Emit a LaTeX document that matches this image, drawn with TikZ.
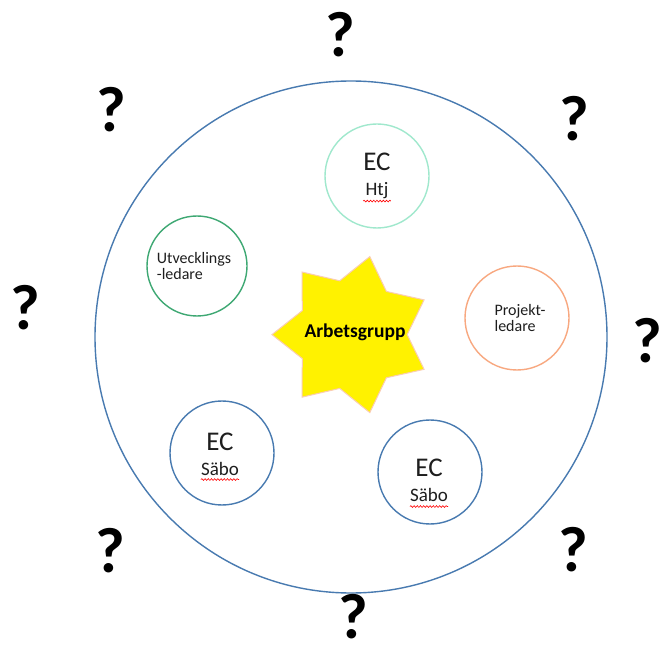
\documentclass[tikz,border=0pt]{standalone}
\usepackage{fontspec}
\setmainfont{Carlito}
\usepackage{xcolor}
\usetikzlibrary{shapes.geometric,decorations.pathmorphing}

\definecolor{ringblue}{RGB}{72,122,176}
\definecolor{ringmint}{RGB}{160,232,205}
\definecolor{ringgreen}{RGB}{62,168,115}
\definecolor{ringorange}{RGB}{248,168,128}
\definecolor{starline}{RGB}{250,205,178}
\definecolor{txtgray}{RGB}{30,30,30}

\begin{document}
\begin{tikzpicture}[
  x=1pt, y=-1pt,
  ring/.style={draw, circle, line width=1.4pt, minimum size=#1, inner sep=0pt},
  ring/.default=104pt,
  ectext/.style={align=center, inner sep=0pt, text=txtgray, font=\fontsize{27}{25}\selectfont},
  roletext/.style={align=left, inner sep=0pt, text=txtgray, font=\fontsize{16}{16.5}\selectfont},
  burst/.style={star, star points=7, star point ratio=1.45, minimum size=160pt, shape border rotate=-12.86,
    fill=yellow, draw=starline, line width=1pt, inner sep=0pt},
  worktext/.style={inner sep=0pt, font=\bfseries\fontsize{19.5}{22}\selectfont},
  qmark/.style={inner sep=0pt, font=\bfseries\fontsize{64}{64}\selectfont},
  squiggle/.style={draw=red, line width=0.6pt, decorate, decoration={snake, amplitude=0.9pt, segment length=3.2pt}}
]
\fill[white] (0,0) rectangle (662,647);
\useasboundingbox (0,0) rectangle (662,647);

% outer circle
\node[ring=512pt, draw=ringblue] (group) at (351,337) {};

% members
\node[ring, draw=ringmint] (htj) at (377,176) {};
\node[ring=100pt, draw=ringgreen] (utv) at (197,266) {};
\node[ring, draw=ringorange] (proj) at (517,318) {};
\node[ring, draw=ringblue] (saboL) at (222,453) {};
\node[ring, draw=ringblue] (saboR) at (430,472) {};

\node[ectext] (htjT) at (377,176) {EC\\{\fontsize{19}{25}\selectfont Htj}};
\node[roletext] (utvT) at (194,266) {Utvecklings\\-ledare};
\node[roletext] (projT) at (520,318) {Projekt-\\ledare};
\node[ectext] (saboLT) at (220,454) {EC\\{\fontsize{19}{25}\selectfont Säbo}};
\node[ectext] (saboRT) at (429,480) {EC\\{\fontsize{19}{25}\selectfont Säbo}};

% spelling marks
\draw[squiggle] ([yshift=-2pt]htjT.south west) -- ([yshift=-2pt]htjT.south east);
\draw[squiggle] ([yshift=-4pt]saboLT.south west) -- ([yshift=-4pt]saboLT.south east);
\draw[squiggle] ([yshift=-5pt]saboRT.south west) -- ([yshift=-5pt]saboRT.south east);

% centre
\node[burst] (work) at (352,334.6) {};
\node[worktext] (workT) at (355,332) {Arbetsgrupp};

% question marks round the group
\foreach \p [count=\i] in {(340,35),(574,119),(111,110),(25,308),(647,341),(110,551),(573,550),(353,617)}
  \node[qmark] (q\i) at \p {?};
\end{tikzpicture}
\end{document}
